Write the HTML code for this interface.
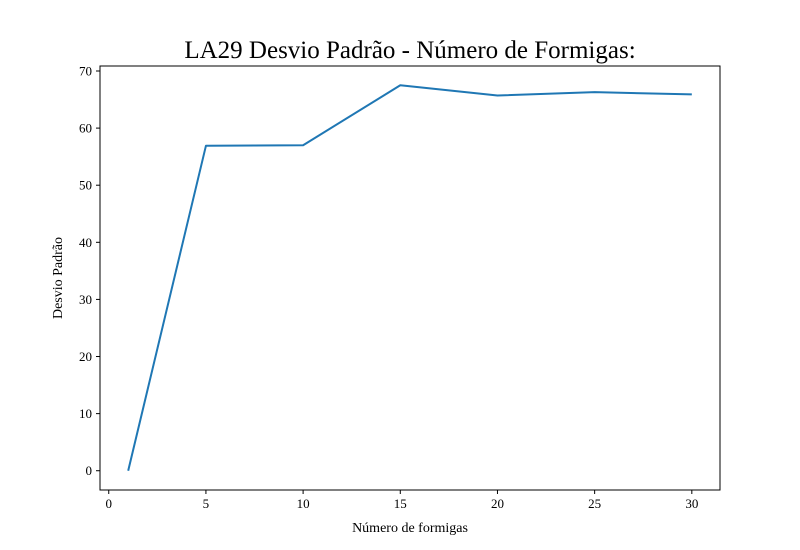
<!DOCTYPE html>
<html><head><meta charset="utf-8">
<style>
body{margin:0;background:#fff;}
svg{display:block;font-family:"Liberation Serif","DejaVu Serif",serif;}
</style></head>
<body>
<svg id="chart" width="800" height="550" viewBox="0 0 800 550" xmlns="http://www.w3.org/2000/svg">
<rect width="800" height="550" fill="#fff"/>
<text x="410" y="58" font-size="25" text-anchor="middle">LA29 Desvio Padrão - Número de Formigas:</text>
<g id="plot"></g>
<rect x="100" y="66" width="620" height="424" fill="none" stroke="#000" stroke-width="1"/>
<text x="410" y="532" font-size="14" text-anchor="middle">Número de formigas</text>
<text x="62" y="278" font-size="14" text-anchor="middle" transform="rotate(-90 62 278)">Desvio Padrão</text>
</svg>
<script>
const xValues=[1,5,10,15,20,25,30];
const yValues=[0,56.9,57.0,67.5,65.7,66.3,65.9];
const xTicks=[0,5,10,15,20,25,30];
const yTicks=[0,10,20,30,40,50,60,70];
const L=100,R=720,T=66,B=490;
const xmin=-0.45,xmax=31.45,ymin=-3.375,ymax=70.875;
const sx=v=>L+(v-xmin)/(xmax-xmin)*(R-L);
const sy=v=>B-(v-ymin)/(ymax-ymin)*(B-T);
const ns="http://www.w3.org/2000/svg";
const g=document.getElementById('plot');
function mk(t,a){const e=document.createElementNS(ns,t);for(const k in a)e.setAttribute(k,a[k]);g.appendChild(e);return e;}
xTicks.forEach(v=>{
  const l=mk('line',{x1:sx(v),x2:sx(v),y1:B,y2:B+4,stroke:'#000'});
  
  
  const t=mk('text',{x:sx(v),y:B+18,'font-size':13,'text-anchor':'middle'});
  t.textContent=v;
  
  
});
yTicks.forEach(v=>{
  const l=mk('line',{x1:L-4,x2:L,y1:sy(v),y2:sy(v),stroke:'#000'});
  
  
  const t=mk('text',{x:L-8,y:sy(v)+4.5,'font-size':13,'text-anchor':'end'});
  t.textContent=v;
  
  
});
const p=mk('polyline',{points:xValues.map((x,i)=>sx(x)+','+sy(yValues[i])).join(' '),fill:'none',stroke:'#1f77b4','stroke-width':2,'stroke-linejoin':'round'});


</script>
</body></html>
